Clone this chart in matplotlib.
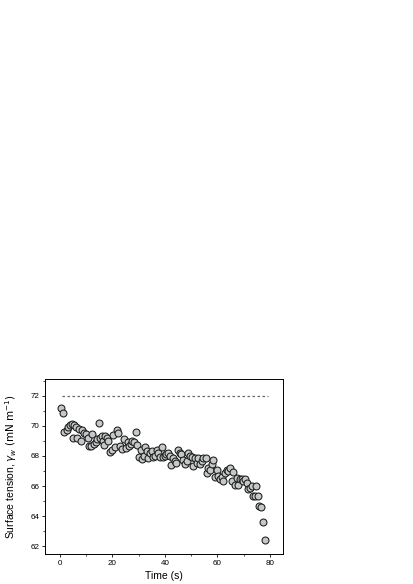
import matplotlib
matplotlib.use("Agg")
import matplotlib.pyplot as plt
from matplotlib.ticker import MultipleLocator

plt.rcParams['font.family'] = ['Liberation Sans', 'DejaVu Sans']

time_s = [0.4, 1.0, 1.6, 2.5, 3.2, 3.8, 4.4, 4.8, 5.5, 6.0, 6.5, 7.2, 7.9, 8.5, 9.1, 9.8,
          10.5, 11.2, 11.8, 12.4, 13.1, 13.7, 14.3, 15.0, 15.4, 15.9, 16.3, 16.8, 17.3, 17.9,
          18.4, 19.0, 19.7, 20.3, 21.0, 21.6, 22.2, 22.9, 23.5, 24.4, 25.0, 25.8, 26.3, 26.9,
          27.6, 28.2, 29.0, 29.5, 30.1, 30.9, 31.4, 32.0, 32.4, 33.0, 33.7, 34.3, 34.9, 35.6,
          36.2, 36.8, 37.5, 38.1, 38.7, 39.4, 40.0, 40.6, 41.3, 41.9, 42.5, 43.2, 43.8, 44.4,
          45.1, 45.7, 46.3, 47.0, 47.6, 48.3, 48.9, 49.5, 50.2, 50.8, 51.4, 52.1, 52.7, 53.3,
          54.0, 54.6, 55.5, 55.9, 56.5, 57.1, 57.8, 58.4, 59.0, 59.7, 60.3, 61.0, 61.6, 62.2,
          62.9, 63.5, 64.1, 64.8, 65.4, 66.0, 66.7, 67.3, 67.9, 68.6, 69.2, 69.8, 70.5, 71.1,
          71.7, 72.4, 73.0, 73.7, 74.5, 74.9, 75.6, 75.9, 76.8, 77.2, 78.1]
tension = [71.18, 70.82, 69.6, 69.7, 69.93, 70.04, 70.1, 69.2, 70.07, 69.9, 69.2, 69.8, 69.0,
           69.7, 69.55, 69.45, 69.2, 68.67, 68.67, 69.45, 68.8, 68.9, 69.1, 70.18, 69.2, 69.3,
           69.0, 68.7, 69.3, 69.2, 68.96, 68.27, 68.38, 69.38, 68.56, 69.7, 69.5, 68.67, 68.44,
           69.1, 68.5, 68.9, 68.67, 68.8, 68.96, 68.9, 69.6, 68.7, 67.93, 68.38, 67.78, 68.0,
           68.6, 68.33, 67.84, 68.2, 68.33, 67.9, 68.0, 68.38, 68.22, 67.93, 68.6, 67.93, 68.0,
           68.1, 68.22, 68.0, 67.38, 67.84, 67.67, 67.56, 68.38, 68.22, 68.1, 67.7, 67.44, 67.67,
           68.22, 68.0, 67.9, 67.33, 67.84, 67.56, 67.84, 67.44, 67.67, 67.84, 67.84, 66.9, 67.22,
           67.1, 67.44, 67.7, 66.6, 67.1, 66.67, 66.44, 66.6, 66.33, 66.9, 67.1, 67.0, 67.22,
           66.33, 66.96, 66.1, 66.56, 66.1, 66.5, 66.44, 66.33, 66.44, 66.2, 65.8, 65.9, 66.0,
           65.33, 65.33, 66.0, 65.33, 64.7, 64.6, 63.6, 62.42]

water_time = [0.6, 79.4]
water_tension = [72.0, 72.0]

x_ticks = [0, 20, 40, 60, 80]
y_ticks = [62, 64, 66, 68, 70, 72]

fig = plt.figure(figsize=(4.13, 5.84), dpi=100)
ax = fig.add_axes([45/413, 1 - 554/584, (283 - 45)/413, (554 - 379)/584])

ax.plot(water_time, water_tension, linestyle=(0, (2.0, 2.0)), color='#666666', linewidth=0.9)
ax.plot(time_s, tension, linestyle='none', marker='o', markersize=5.0,
        markerfacecolor='#c4c8c8', markeredgecolor='#1a1a1a', markeredgewidth=0.75)

ax.set_xlim(-5.7, 85)
ax.set_ylim(61.5, 73.1)
ax.set_xticks(x_ticks)
ax.set_yticks(y_ticks)
ax.xaxis.set_minor_locator(MultipleLocator(10))
ax.yaxis.set_minor_locator(MultipleLocator(1))
ax.tick_params(which='major', direction='out', length=2.5, width=0.6, labelsize=5.8, pad=1.5)
ax.tick_params(which='minor', direction='out', length=1.5, width=0.5)
for s in ax.spines.values():
    s.set_linewidth(0.7)

ax.set_xlabel('Time (s)', fontsize=7.5, labelpad=3)
ax.set_ylabel(r'Surface tension, $\gamma_{w}$ $\left(\mathrm{mN\ m^{-1}}\right)$', fontsize=7.5, labelpad=8)

fig.savefig('out.png', dpi=100)
